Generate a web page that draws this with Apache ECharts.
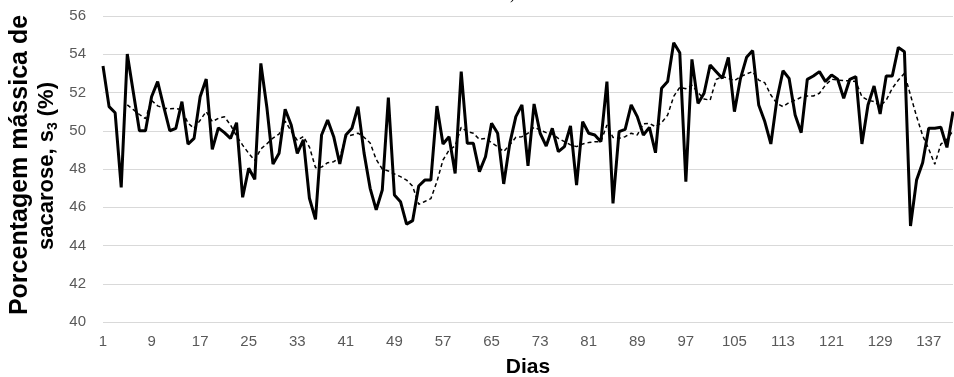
<!DOCTYPE html>
<html>
<head>
<meta charset="utf-8">
<script src="https://cdn.jsdelivr.net/npm/echarts@6/dist/echarts.min.js"></script>
<style>
html,body{margin:0;padding:0;background:#fff;}
#chart{width:954px;height:377px;}
</style>
</head>
<body>
<div id="chart"></div>
<script>
// Measured daily values (solid line)
var sacarose = [
53.39,51.26,50.94,47.04,54.01,52.0,50.0,50.0,51.78,52.57,
51.26,50.0,50.13,51.52,49.3,49.6,51.78,52.7,49.03,50.15,
49.9,49.6,50.42,46.52,48.04,47.46,53.52,51.2,48.26,48.82,
51.12,50.3,48.82,49.52,46.47,45.37,49.78,50.56,49.69,48.26,
49.78,50.13,51.26,48.83,46.99,45.86,46.9,51.73,46.64,46.29,
45.12,45.3,47.11,47.42,47.42,51.29,49.31,49.69,47.77,53.09,
49.34,49.34,47.86,48.64,50.39,49.87,47.22,49.34,50.74,51.35,
48.16,51.4,49.87,49.2,50.13,48.91,49.17,50.25,47.16,50.48,
49.87,49.78,49.43,52.57,46.2,49.95,50.07,51.35,50.74,49.78,
50.18,48.85,52.22,52.57,54.6,54.08,47.34,53.73,51.43,51.96,
53.44,53.09,52.74,53.84,51.0,52.74,53.84,54.19,51.35,50.48,
49.31,51.64,53.14,52.74,50.82,49.9,52.69,52.86,53.09,52.57,
52.92,52.69,51.7,52.69,52.83,49.31,51.35,52.34,50.88,52.86,
52.86,54.36,54.13,45.02,47.42,48.33,50.13,50.13,50.18,49.13,
51.0
];
// Dashed trend line
var tendencia = [
null,null,null,null,51.35,51.1,50.85,50.63,51.58,51.3,
51.18,51.15,51.16,51.1,50.4,50.12,50.55,51.0,50.48,50.65,
50.73,50.3,49.72,49.25,48.82,48.45,49.05,49.32,49.62,49.83,
50.5,49.98,49.5,49.7,49.15,48.07,48.1,48.33,48.38,48.6,
49.69,49.78,49.87,49.66,49.36,48.5,48.0,47.9,47.74,47.6,
47.42,47.1,46.15,46.3,46.45,47.34,48.47,48.99,49.2,50.18,
49.95,49.87,49.55,49.6,49.38,49.17,48.91,49.26,49.66,49.69,
49.87,50.18,50.04,49.9,49.83,49.6,49.43,49.26,49.17,49.31,
49.38,49.43,49.43,50.3,49.65,49.6,49.69,49.87,49.78,50.36,
50.39,50.21,50.42,50.82,51.8,52.27,52.2,52.38,52.0,51.66,
51.6,52.68,52.84,52.74,52.62,52.83,52.97,53.09,52.65,52.51,
51.87,51.43,51.26,51.47,51.6,51.75,51.82,51.82,51.96,52.39,
52.69,52.65,52.62,52.62,52.57,51.78,51.6,51.52,51.29,51.6,
52.22,52.65,53.0,51.86,50.75,49.75,49.05,48.25,49.3,49.55,
50.0
];
var dias = [];
for (var i = 1; i <= sacarose.length; i++) dias.push(String(i));
var yTicks = {min: 40, max: 56, step: 2};

var FONT = 'Liberation Sans, Arial, sans-serif';
var chart = echarts.init(document.getElementById('chart'));
chart.setOption({
  animation: false,
  backgroundColor: '#fff',
  grid: {left: 103, right: 1, top: 16, bottom: 55, containLabel: false, outerBoundsMode: 'none'},
  xAxis: {
    type: 'category',
    data: dias,
    boundaryGap: false,
    name: 'Dias',
    nameLocation: 'middle',
    nameGap: 35,
    nameTextStyle: {fontFamily: FONT, fontWeight: 'bold', fontSize: 21, color: '#000'},
    axisLine: {show: false},
    axisTick: {show: false},
    axisLabel: {interval: 7, fontFamily: FONT, fontSize: 15, color: '#595959', margin: 12},
    splitLine: {show: false}
  },
  yAxis: {
    type: 'value',
    min: yTicks.min, max: yTicks.max, interval: yTicks.step,
    axisLine: {show: false},
    axisTick: {show: false},
    axisLabel: {fontFamily: FONT, fontSize: 15, color: '#595959', margin: 17},
    splitLine: {lineStyle: {color: '#d9d9d9', width: 1}}
  },
  graphic: [
    {type: 'text', x: 20, y: 165, rotation: Math.PI / 2,
     style: {text: 'Porcentagem mássica de', font: 'bold 25px ' + FONT, fill: '#000', align: 'center', verticalAlign: 'middle'}},
    {type: 'text', x: 47, y: 166, rotation: Math.PI / 2,
     style: {text: '{a|sacarose, s}{b|3}{a| (%)}', align: 'center', verticalAlign: 'middle',
       rich: {
         a: {fontFamily: FONT, fontWeight: 'bold', fontSize: 22, color: '#000', lineHeight: 26},
         b: {fontFamily: FONT, fontWeight: 'bold', fontSize: 14, color: '#000', lineHeight: 14, verticalAlign: 'bottom', padding: [10, 0, 0, 0]}
       }}},
    {type: 'text', x: 510, y: -13,
     style: {text: ')', font: '16px Liberation Serif, serif', fill: '#000'}}
  ],
  series: [
    {type: 'line', data: sacarose, symbol: 'none', smooth: false,
     lineStyle: {color: '#000', width: 3}, z: 3},
    {type: 'line', data: tendencia, symbol: 'none', smooth: false,
     lineStyle: {color: '#000', width: 1.5, type: [4, 3]}, z: 2}
  ]
});
</script>
</body>
</html>
